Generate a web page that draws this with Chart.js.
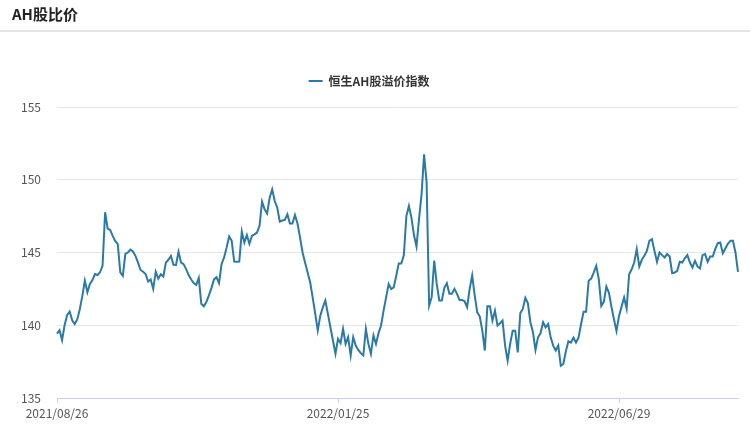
<!DOCTYPE html>
<html>
<head>
<meta charset="utf-8">
<script src="https://cdn.jsdelivr.net/npm/chart.js@4.4.0/dist/chart.umd.min.js"></script>
<style>
  body { margin: 0; background: #fff; font-family: "Noto Sans CJK SC", "Noto Sans", sans-serif; }
  .wrap { position: relative; width: 750px; height: 429px; overflow: hidden; }
  .title { position: absolute; left: 0; top: 0; width: 750px; height: 30px; border-bottom: 2px solid #e4e4e4; box-sizing: content-box; }
  .title span { position: absolute; left: 12px; top: 3px; font-size: 15px; font-weight: bold; color: #222; }
  .chart-box { position: absolute; left: 0; top: 0; width: 750px; height: 429px; }
</style>
</head>
<body>
<div class="wrap">
  <div class="chart-box"><canvas id="ahChart"></canvas></div>
  <div class="title"><span>AH股比价</span></div>
</div>
<script>
// 恒生AH股溢价指数, one value per trading day
const premiumIndex = [
  139.43, 139.66, 138.98, 140.0, 140.7, 140.95, 140.34, 140.08, 140.4, 141.1,
  142.0, 143.07, 142.27, 142.84, 143.1, 143.52, 143.45, 143.64, 144.1, 147.77,
  146.64, 146.55, 146.14, 145.8, 145.57, 143.64, 143.4, 144.9, 145.0, 145.2,
  145.07, 144.77, 144.3, 143.8, 143.68, 143.52, 143.0, 143.14, 142.5, 143.68,
  143.2, 143.5, 143.35, 144.3, 144.5, 144.77, 144.16, 144.14, 145.05, 144.3,
  144.2, 143.86, 143.45, 143.14, 142.9, 142.77, 143.25, 141.48, 141.3, 141.6,
  142.05, 142.55, 143.15, 143.3, 142.9, 144.2, 144.66, 145.34, 146.1,
  145.8, 144.38, 144.36, 144.38, 146.44, 145.68, 146.2, 145.6, 146.14, 146.25,
  146.37, 146.83, 148.5, 147.97, 147.67, 148.77, 149.34, 148.54, 148.08, 147.12,
  147.2, 147.24, 147.63, 146.99, 146.99, 147.58, 146.99, 146.03, 145.0,
  144.3, 143.63, 142.95, 141.9, 140.78, 139.64, 140.66, 141.23, 141.7, 140.78,
  139.86, 138.95, 138.04, 139.06, 138.77, 139.75, 138.72, 139.18, 137.92, 139.18,
  138.6, 138.3, 138.08, 137.92, 139.75, 138.72, 138.04, 139.3, 138.72, 139.45,
  139.98, 141.0, 141.92, 142.83, 142.49, 142.6, 143.4, 144.25, 144.25,
  144.8, 147.5, 148.2, 147.4, 146.2, 145.41, 147.3, 149.0, 151.74,
  149.8, 141.35, 141.93, 144.45, 142.84, 141.7, 141.7, 142.57, 142.89, 142.16,
  142.16, 142.5, 142.16, 141.74, 141.74, 141.65, 141.24, 142.5, 143.42, 142.04,
  140.89, 140.6, 139.63, 138.26, 141.31, 141.31, 140.32, 141.0, 139.98, 140.14,
  140.32, 138.6, 137.57, 138.72, 139.63, 139.63, 138.14, 140.83, 141.12, 141.88,
  141.51, 140.21, 139.52, 138.3, 139.17, 139.45, 140.21, 139.86, 140.09, 139.17,
  138.6, 138.26, 138.6, 137.22, 137.34, 138.21, 138.9,
  138.81, 139.15, 138.81, 139.15, 140.07, 140.92, 140.92, 143.05, 143.21, 143.62,
  144.08, 143.17, 141.33, 141.61, 142.66, 142.25, 141.28, 140.41, 139.61, 140.64,
  141.28, 141.9, 141.15, 143.51, 143.85, 144.31, 145.23, 144.04, 144.5, 144.77,
  145.11, 145.8, 145.92, 145.11, 144.36, 145.0, 144.82, 144.66, 144.89, 144.72,
  143.58, 143.62, 143.74, 144.36, 144.31, 144.6, 144.82, 144.31, 143.97, 144.43,
  144.04, 143.9, 144.82, 144.89, 144.36, 144.72, 144.72, 145.23, 145.64, 145.69,
  144.95, 145.28, 145.6, 145.8, 145.8, 145.0, 143.67
];
const tickPos = [0, 111, 222];
const tickText = ['2021/08/26', '2022/01/25', '2022/06/29'];
const yTicks = [135, 140, 145, 150, 155];
const days = premiumIndex.map((_, i) => i);

const lineColor = '#2a7aa8';
const font = '"Noto Sans CJK SC", "Noto Sans", sans-serif';

// push the plot area down a bit below the legend
const legendGap = {
  id: 'legendGap',
  beforeInit(chart) {
    const fit = chart.legend.fit;
    chart.legend.fit = function () {
      fit.bind(chart.legend)();
      this.height += 10;
    };
  }
};

new Chart(document.getElementById('ahChart'), {
  type: 'line',
  data: {
    labels: days,
    datasets: [{
      label: '恒生AH股溢价指数',
      data: premiumIndex,
      borderColor: lineColor,
      backgroundColor: lineColor,
      borderWidth: 2,
      pointRadius: 0,
      pointHoverRadius: 0,
      tension: 0,
      fill: false
    }]
  },
  options: {
    responsive: true, maintainAspectRatio: false, animation: false,
    layout: { padding: { top: 65, left: 0, right: 12, bottom: 0 } },
    plugins: {
      legend: {
        display: true, position: 'top', align: 'center',
        labels: {
          usePointStyle: true, pointStyle: 'line', pointStyleWidth: 14,
          boxHeight: 12, padding: 10,
          color: '#333', font: { family: font, size: 12, weight: 'bold' }
        }
      },
      tooltip: { enabled: false }
    },
    scales: {
      x: {
        type: 'category',
        offset: false,
        afterFit: s => { s.height = 31; },
        border: { display: true, color: '#c8d2e8', width: 1 },
        grid: { drawOnChartArea: false, drawTicks: true, tickLength: 5, color: '#c8d2e8' },
        ticks: {
          autoSkip: false, maxRotation: 0, padding: 3,
          color: '#555', font: { family: font, size: 12 },
          callback: (v, i) => {
            const k = tickPos.indexOf(i);
            return k >= 0 ? tickText[k] : null;
          }
        }
      },
      y: {
        min: yTicks[0], max: yTicks[yTicks.length - 1],
        afterFit: s => { s.width = 57; },
        border: { display: false },
        grid: { color: '#e6e6e6', drawTicks: false },
        ticks: { stepSize: 5, padding: 16, color: '#555', font: { family: font, size: 12 } }
      }
    }
  },
  plugins: [legendGap]
});
</script>
</body>
</html>
